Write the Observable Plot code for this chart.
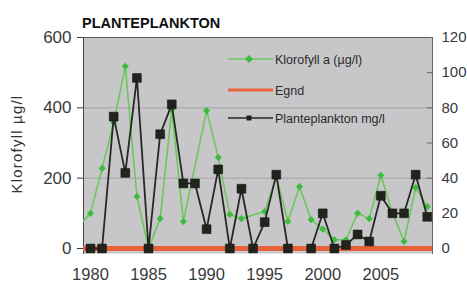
<!DOCTYPE html>
<html>
<head>
<meta charset="utf-8">
<script src="https://cdn.jsdelivr.net/npm/d3@7"></script>
<script src="https://cdn.jsdelivr.net/npm/@observablehq/plot@0.6"></script>
<style>
  body { margin: 0; background: #fff; }
  #wrap { position: relative; width: 467px; height: 284px; font-family: "Liberation Sans", Arial, sans-serif; }
  #wrap > svg { display: block; }
  #overlay { position: absolute; left: 0; top: 0; pointer-events: none; }
</style>
</head>
<body>
<div id="wrap"></div>
<script>
// ---- data ----
const years = [1979, 1980, 1981, 1982, 1983, 1984, 1985, 1986, 1987, 1988, 1989,
               1990, 1991, 1992, 1993, 1994, 1995, 1996, 1997, 1998, 1999,
               2000, 2001, 2002, 2003, 2004, 2005, 2006, 2007, 2008, 2009];
// Klorofyll a (µg/l) — left axis
const klorofyll = [65, 100, 228, 358, 518, 148, 0, 85, 395, 77, null,
                   392, 259, 97, 85, null, 105, 205, 77, 176, 82,
                   55, 25, 25, 100, 85, 208, 102, 20, 173, 119];
// Planteplankton (mg/l) — right axis
const planteplankton = [null, 0, 0, 75, 43, 97, 0, 65, 82, 37, 37,
                        11, 45, 0, 34, 0, 15, 42, 0, null, 0,
                        20, 0, 2, 8, 4, 30, 20, 20, 42, 18];
// Egnd
const egnd = [0, 0, 0, 0, 0, 0, 0, 0, 0, 0, 0,
              0, 0, 0, 0, 0, 0, 0, 0, 0, 0,
              0, 0, 0, 0, 0, 0, 0, 0, 0, 0];

const leftTicks = [0, 200, 400, 600];
const rightTicks = [0, 20, 40, 60, 80, 100, 120];
const xTicks = [1980, 1985, 1990, 1995, 2000, 2005];
const xTickLabels = ["1980", "1985", "1990", "1995", "2000", "2005"];
const gridTicks = [200, 400];

const title = "PLANTEPLANKTON";
const yTitle = "Klorofyll µg/l";
const legendLabels = ["Klorofyll a (µg/l)", "Egnd", "Planteplankton mg/l"];

// ratio between left (µg/l) and right (mg/l) axes: 600 ↔ 120
const ratio = 600 / 120;

const rows = years.map((year, i) => ({year, k: klorofyll[i], p: planteplankton[i]}));
const kRows = rows.filter(d => d.k != null);
const pRows = rows.filter(d => d.p != null);

const GREEN_LINE = "#6cc85a", GREEN_DOT = "#3dbb3d", ORANGE = "#e8623a", BLACK = "#262824";

const chart = Plot.plot({
  width: 467,
  height: 284,
  marginTop: 37,
  marginBottom: 31,
  marginLeft: 83,
  marginRight: 35,
  x: {domain: [1979.4, 2009.45]},
  y: {domain: [-14.2, 600]},
  style: {fontFamily: "'Liberation Sans', Arial, sans-serif", background: "transparent", overflow: "visible"},
  marks: [
    Plot.frame({fill: "#c7c7c9"}),
    Plot.ruleY(gridTicks, {stroke: "#9c9c9e", strokeWidth: 0.8}),
    Plot.frame({anchor: "top", stroke: "#555"}),
    Plot.frame({anchor: "left", stroke: "#444"}),
    Plot.frame({anchor: "right", stroke: "#666"}),
    Plot.ruleY(rightTicks, {y: d => d * ratio, insetLeft: 344, stroke: "#666"}),
    Plot.axisY({ticks: leftTicks, anchor: "left", tickSize: 6, tickPadding: 6, fontSize: 17, color: "#3a3a3a", label: null}),
    Plot.axisY({ticks: rightTicks.map(d => d * ratio), tickFormat: d => String(d / ratio), anchor: "right",
                tickSize: 0, tickPadding: 9, fontSize: 15, color: "#3a3a3a", label: null}),
    Plot.axisX({ticks: xTicks, tickFormat: d => xTickLabels[xTicks.indexOf(d)], tickSize: 0, tickPadding: 15,
                fontSize: 16.5, color: "#3a3a3a", label: null}),
    Plot.ruleY(egnd, {stroke: ORANGE, strokeWidth: 3.5}),
    Plot.lineY(kRows, {x: "year", y: "k", stroke: GREEN_LINE, strokeWidth: 1.6, clip: true}),
    Plot.dot(kRows, {x: "year", y: "k", symbol: "diamond2", r: 3.2, fill: GREEN_DOT, clip: true}),
    Plot.lineY(rows, {x: "year", y: d => d.p == null ? NaN : d.p * ratio, stroke: BLACK, strokeWidth: 1.8}),
    Plot.dot(pRows, {x: "year", y: d => d.p * ratio, symbol: "square", r: 5, fill: "#20241c", stroke: "#111", strokeWidth: 0.5})
  ]
});

const wrap = document.getElementById("wrap");
wrap.appendChild(chart);

// overlay: title, y-axis title, legend
const ns = "http://www.w3.org/2000/svg";
const ov = document.createElementNS(ns, "svg");
ov.setAttribute("id", "overlay");
ov.setAttribute("width", 467);
ov.setAttribute("height", 284);
ov.setAttribute("font-family", "'Liberation Sans', Arial, sans-serif");
function el(tag, attrs, text) {
  const e = document.createElementNS(ns, tag);
  for (const k in attrs) e.setAttribute(k, attrs[k]);
  if (text != null) e.textContent = text;
  ov.appendChild(e);
  return e;
}
el("text", {x: 82, y: 28, "font-size": 14.5, "font-weight": "bold", fill: "#111"}, title);
el("text", {transform: "translate(22,144) rotate(-90)", "text-anchor": "middle", "font-size": 15,
            "letter-spacing": 1.2, fill: "#333"}, yTitle);
// legend
const ly = [59, 90, 118];
el("line", {x1: 228, x2: 273, y1: ly[0], y2: ly[0], stroke: GREEN_LINE, "stroke-width": 1.6});
el("polygon", {points: `249,${ly[0]-4} 253,${ly[0]} 249,${ly[0]+4} 245,${ly[0]}`, fill: GREEN_DOT});
el("line", {x1: 228, x2: 273, y1: ly[1], y2: ly[1], stroke: ORANGE, "stroke-width": 3});
el("line", {x1: 228, x2: 273, y1: ly[2], y2: ly[2], stroke: BLACK, "stroke-width": 1.6});
el("rect", {x: 246.5, y: ly[2] - 2.5, width: 5, height: 5, fill: "#20241c"});
legendLabels.forEach((t, i) => el("text", {x: 275, y: ly[i] + 4.5, "font-size": 12.5, fill: "#2a2a2a"}, t));
wrap.appendChild(ov);
</script>
</body>
</html>
